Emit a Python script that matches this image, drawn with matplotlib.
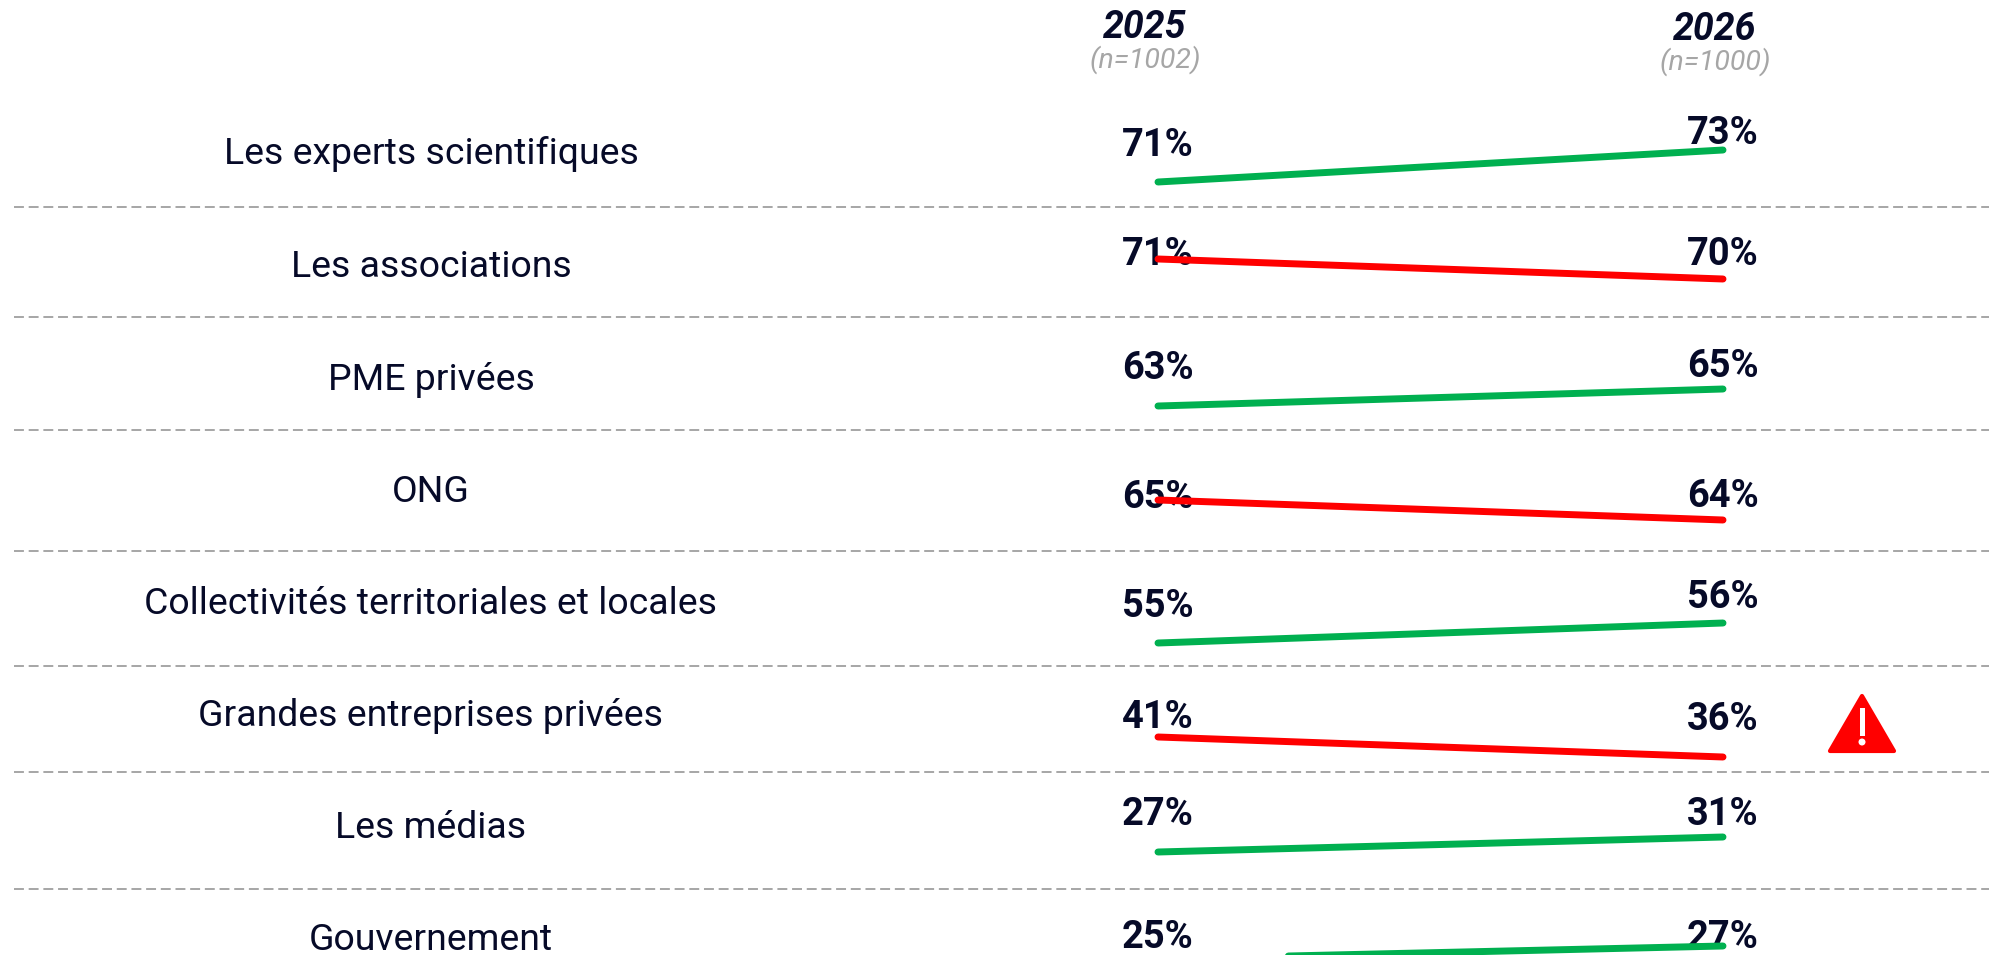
import matplotlib
matplotlib.use('Agg')
import matplotlib.pyplot as plt
from matplotlib.patches import Polygon, Circle, Rectangle

W, H = 1990, 955

categories = ['Les experts scientifiques', 'Les associations', 'PME privées', 'ONG',
              'Collectivités territoriales et locales', 'Grandes entreprises privées',
              'Les médias', 'Gouvernement']
v2025 = [71, 71, 63, 65, 55, 41, 27, 25]
v2026 = [73, 70, 65, 64, 56, 36, 31, 27]
years = [2025, 2026]
samples = ['(n=1002)', '(n=1000)']

# each row has its own scale in the original: pixels per point, and middle of the line
px_per_pt = [16, 20, 8.5, 20, 20, 4, 3.75, 6.5]
line_mid = [166, 269, 397.5, 510, 633, 747, 844.5, 952.5]
label_y = [154.5, 266.5, 379.5, 491.5, 603.5, 715.5, 827.5, 939.5]
y_label25 = [145, 254, 368, 497, 606, 717, 814, 937]
y_label26 = [134, 254, 366, 496, 597, 719, 814, 937]
rules = [207, 317, 430, 551, 666, 772, 889]

DARK = '#060A28'
GREEN = '#00B050'
RED = '#FF0000'
GREY = '#A6A6A6'
X0, X1 = 1158, 1723

plt.rcParams['font.family'] = ['Roboto', 'DejaVu Sans']

fig = plt.figure(figsize=(W / 100, H / 100), dpi=100)
ax = fig.add_axes([0, 0, 1, 1])
ax.set_xlim(0, W)
ax.set_ylim(H, 0)
ax.axis('off')

for y in rules:
    ax.plot([14, W], [y, y], color=GREY, lw=1.4, dashes=(5.1, 2.45))

for i, cat in enumerate(categories):
    ax.text(431, label_y[i], cat, ha='center', va='center', fontsize=26.9, color=DARK)
    ax.text(1157.5, y_label25[i], f'{v2025[i]}%', ha='center', va='center', fontsize=27.4,
            fontweight='bold', color=DARK, zorder=3)
    ax.text(1723, y_label26[i], f'{v2026[i]}%', ha='center', va='center', fontsize=27.4,
            fontweight='bold', color=DARK, zorder=3)

    # row axes: own y scale, so the line is drawn from the values
    sub = fig.add_axes([0, 0, 1, 1], facecolor='none')
    sub.axis('off')
    k = px_per_pt[i]
    mean = (v2025[i] + v2026[i]) / 2
    sub.set_ylim(mean - (H - line_mid[i]) / k, mean + line_mid[i] / k)
    sub.set_xlim(2025 - X0 / (X1 - X0), 2025 + (W - X0) / (X1 - X0))
    col = GREEN if v2026[i] > v2025[i] else RED
    sub.plot(years, [v2025[i], v2026[i]], color=col, lw=5, solid_capstyle='round', zorder=2)

ax.text(1145, 28, '2025', ha='center', va='center', fontsize=27, fontweight='bold',
        fontstyle='italic', color=DARK)
ax.text(1145, 60, samples[0], ha='center', va='center', fontsize=20.5, fontstyle='italic', color=GREY)
ax.text(1715, 30, '2026', ha='center', va='center', fontsize=27, fontweight='bold',
        fontstyle='italic', color=DARK)
ax.text(1715, 62, samples[1], ha='center', va='center', fontsize=20.5, fontstyle='italic', color=GREY)

# warning sign
ax.add_patch(Polygon([(1862, 696), (1894, 751), (1830, 751)], closed=True, fc=RED, ec=RED, lw=3,
                     joinstyle='round', zorder=4))
ax.add_patch(Rectangle((1859.5, 708), 5, 28, fc='white', ec='none', zorder=5))
ax.add_patch(Circle((1862, 742), 3.5, fc='white', ec='none', zorder=5))

fig.savefig('out.png', dpi=100)
